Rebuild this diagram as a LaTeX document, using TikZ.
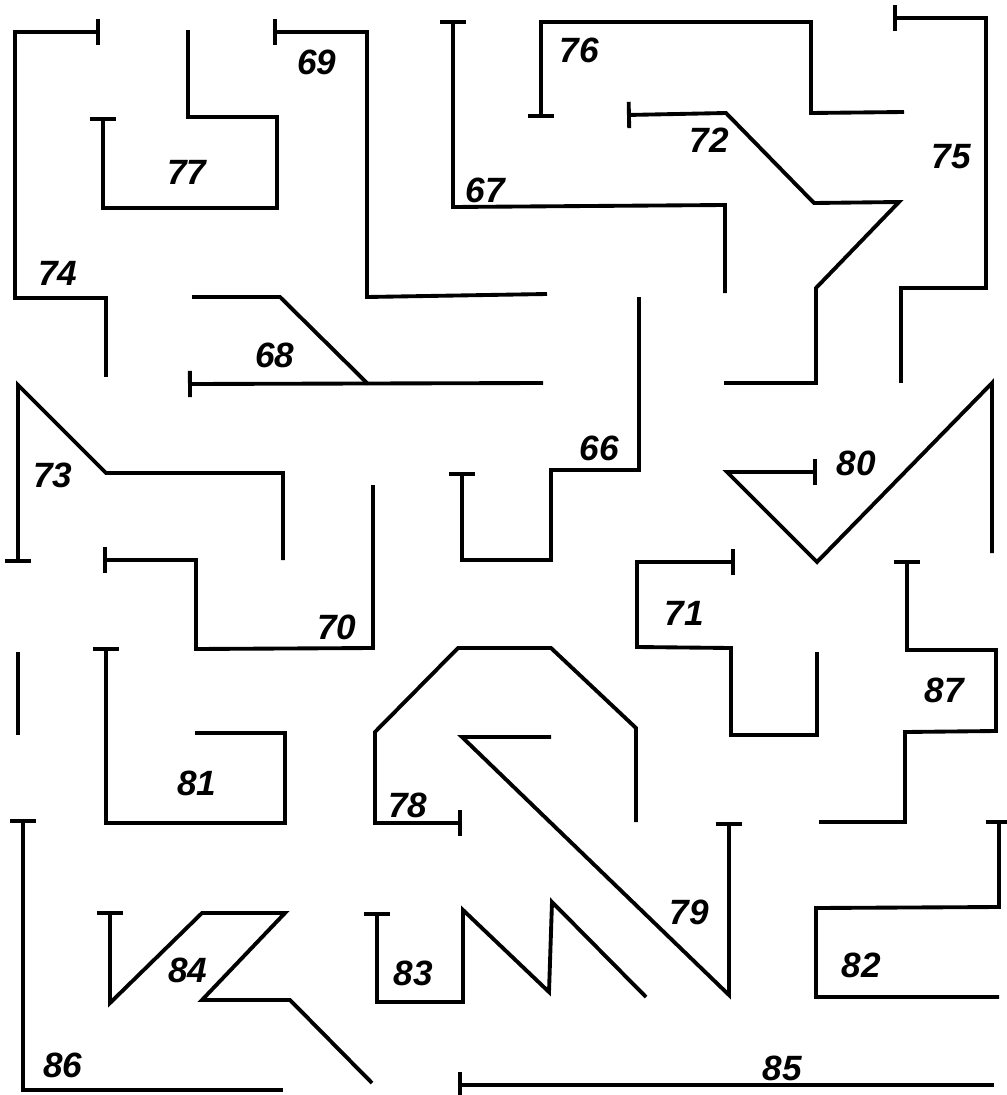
\documentclass[tikz,border=0pt]{standalone}
\usepackage{fontspec}
\setsansfont{Liberation Sans}
\usetikzlibrary{arrows.meta}

\begin{document}
\begin{tikzpicture}[
  x=0.02cm, y=-0.02cm,
  line width=2.2pt,
  every node/.style={font=\sffamily\bfseries\itshape\fontsize{20}{22}\selectfont,inner sep=0pt},
  >={Bar[width=15pt]}]
  \useasboundingbox (0,0) rectangle (1007,1095);
  % top row
  \draw[<-] (100,32) -- (15,32) -- (15,298) -- (106,298) -- (106,377);
  \draw[<-] (103,117) -- (103,208) -- (277,208) -- (277,117) -- (188,117) -- (188,30);
  \draw[<-] (273,32) -- (367,32) -- (367,297) -- (547,294);
  \draw[<-] (453,20) -- (453,207) -- (725,205) -- (725,293);
  \draw[<-] (541,118) -- (541,22) -- (811,22) -- (811,113) -- (904,112);
  \draw[<-] (627,115) -- (726,113) -- (814,203) -- (899,202) -- (816,288) -- (816,383) -- (724,383);
  \draw[<-] (893,18) -- (986,18) -- (986,288) -- (901,288) -- (901,383);
  \draw (192,297) -- (280,297) -- (368,384);
  \draw[<-] (188,384) -- (543,383);
  % middle
  \draw[<-] (18,563) -- (18,385) -- (106,473) -- (283,473) -- (283,560);
  \draw[<-] (103,560) -- (196,560) -- (196,649) -- (373,648) -- (373,485);
  \draw[<-] (462,472) -- (462,560) -- (551,560) -- (551,470) -- (639,470) -- (639,297);
  \draw[<-] (817,472) -- (727,472) -- (817,562) -- (992,383) -- (992,553);
  \draw[<-] (735,562) -- (637,562) -- (637,647) -- (731,648) -- (731,735) -- (817,735) -- (817,652);
  \draw[<-] (907,560) -- (907,650) -- (996,650) -- (996,731) -- (905,732) -- (905,822) -- (819,822);
  \draw (18,652) -- (18,735);
  \draw[<-] (106,647) -- (106,823) -- (285,823) -- (285,733) -- (195,733);
  \draw[<-] (462,823) -- (375,823) -- (375,732) -- (458,648) -- (551,648) -- (636,728) -- (636,822);
  \draw[<-] (729,822) -- (729,995) -- (462,737) -- (551,737);
  % bottom row
  \draw[<-] (23,819) -- (23,1090) -- (283,1090);
  \draw[<-] (110,911) -- (110,1003) -- (202,913) -- (285,913) -- (202,1000) -- (290,1000) -- (372,1083);
  \draw[<-] (377,912) -- (377,1002) -- (463,1002) -- (463,910) -- (549,992) -- (552,902) -- (646,997);
  \draw[<-] (999,820) -- (999,907) -- (816,908) -- (816,997) -- (999,997);
  \draw[<-] (458,1085) -- (994,1085);
  % numbers
  \node (n69) at (317,62) {69};
  \node (n77) at (187,172) {77};
  \node (n74) at (58,273) {74};
  \node (n67) at (485,190) {67};
  \node (n68) at (275,355) {68};
  \node (n76) at (579,50) {76};
  \node (n72) at (709,140) {72};
  \node (n75) at (951,157) {75};
  \node (n73) at (53,475) {73};
  \node (n70) at (337,627) {70};
  \node (n66) at (599,448) {66};
  \node (n80) at (856,463) {80};
  \node (n71) at (684,613) {71};
  \node (n87) at (944,690) {87};
  \node (n81) at (197,783) {81};
  \node (n78) at (408,805) {78};
  \node (n79) at (689,912) {79};
  \node (n86) at (63,1065) {86};
  \node (n84) at (188,970) {84};
  \node (n83) at (413,973) {83};
  \node (n82) at (861,965) {82};
  \node (n85) at (782,1068) {85};
\end{tikzpicture}
\end{document}
